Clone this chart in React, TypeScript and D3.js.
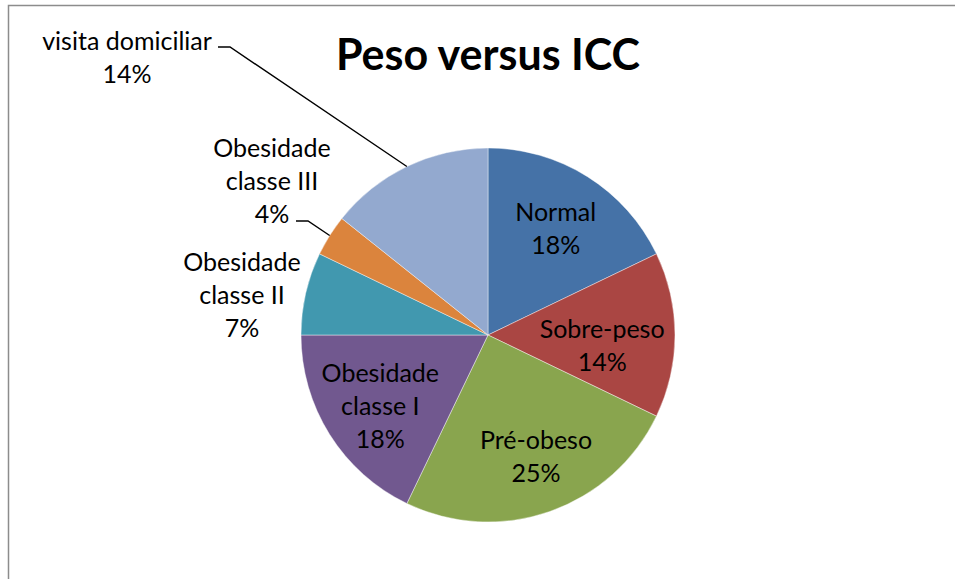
import React from 'react';
import * as d3 from 'd3';

// categories and counts (percentages are count / total)
const categories = [
  'Normal',
  'Sobre-peso',
  'Pré-obeso',
  'Obesidade classe I',
  'Obesidade classe II',
  'Obesidade classe III',
  'visita domiciliar',
];
const counts = [5, 4, 7, 5, 2, 1, 4];
const colors = ['#4572A7', '#AA4643', '#89A54E', '#71588F', '#4198AF', '#DB843D', '#93A9CF'];

// how each label is broken into lines
const labelLines: Record<string, string[]> = {
  'Normal': ['Normal'],
  'Sobre-peso': ['Sobre-peso'],
  'Pré-obeso': ['Pré-obeso'],
  'Obesidade classe I': ['Obesidade', 'classe I'],
  'Obesidade classe II': ['Obesidade', 'classe II'],
  'Obesidade classe III': ['Obesidade', 'classe III'],
  'visita domiciliar': ['visita domiciliar'],
};

// layout: labels inside the pie are nudged from the centroid, outside ones were dragged
const insideNudge: Record<string, [number, number]> = {
  'Normal': [0, 1],
  'Sobre-peso': [-13, 10],
  'Pré-obeso': [6, 1],
  'Obesidade classe I': [0, 3],
};
const outsideLabel: Record<string, { x: number; y: number; leader?: [number, number] }> = {
  'Obesidade classe II': { x: 242, y: 295 },
  'Obesidade classe III': { x: 272, y: 181, leader: [296, 221] },
  'visita domiciliar': { x: 127, y: 57, leader: [218, 47] },
};

const W = 955;
const H = 579;
const cx = 488;
const cy = 335;
const R = 187;
const FONT = 'Lato, "Open Sans", sans-serif';
const FS = 25;
const LH = 33;

export default function App() {
  const total = d3.sum(counts);
  const pct = d3.format('.0%');
  const pie = d3.pie<number>().sort(null).value(d => d);
  const arcs = pie(counts);
  const arc = d3.arc<d3.PieArcDatum<number>>().innerRadius(0).outerRadius(R);
  const labelArc = d3.arc<d3.PieArcDatum<number>>().innerRadius(R * 0.68).outerRadius(R * 0.68);

  const renderLabel = (lines: string[], x: number, yMid: number, key: string) => {
    // yMid: vertical centre of the block of lines
    const n = lines.length;
    const firstBaseline = yMid - ((n - 1) * LH) / 2 + FS * 0.36;
    return (
      <text key={key} x={x} textAnchor="middle" fontFamily={FONT} fontSize={FS} fill="#000">
        {lines.map((l, i) => (
          <tspan key={i} x={x} y={firstBaseline + i * LH}>{l}</tspan>
        ))}
      </text>
    );
  };

  return (
    <>
      <style>{'body{margin:0}'}</style>
      <svg width={W} height={H} style={{ display: 'block', background: '#fff' }}>
        <rect x={8.5} y={5.5} width={W + 10} height={H + 10} fill="#fff" stroke="#8c8c8c" strokeWidth={1.5} />

        <text x={cx} y={70} textAnchor="middle" fontFamily={FONT} fontWeight="bold" fontSize={43} fill="#000">
          Peso versus ICC
        </text>

        <g transform={`translate(${cx},${cy})`}>
          {arcs.map((a, i) => (
            <path key={categories[i]} d={arc(a) ?? ''} fill={colors[i]} stroke="#fff" strokeWidth={0.6} strokeOpacity={0.7} />
          ))}
        </g>

        {arcs.map((a, i) => {
          const name = categories[i];
          const lines = [...labelLines[name], pct(counts[i] / total)];
          const out = outsideLabel[name];
          if (!out) {
            const [lx, ly] = labelArc.centroid(a);
            const [nx, ny] = insideNudge[name] ?? [0, 0];
            return renderLabel(lines, cx + lx + nx, cy + ly + ny, name);
          }
          const mid = (a.startAngle + a.endAngle) / 2;
          const ex = cx + R * Math.sin(mid);
          const ey = cy - R * Math.cos(mid);
          return (
            <g key={name}>
              {out.leader && (
                <polyline
                  points={`${out.leader[0]},${out.leader[1]} ${out.leader[0] + 12},${out.leader[1]} ${ex},${ey}`}
                  fill="none"
                  stroke="#000"
                  strokeWidth={1.4}
                />
              )}
              {renderLabel(lines, out.x, out.y, name + '-t')}
            </g>
          );
        })}
      </svg>
    </>
  );
}
